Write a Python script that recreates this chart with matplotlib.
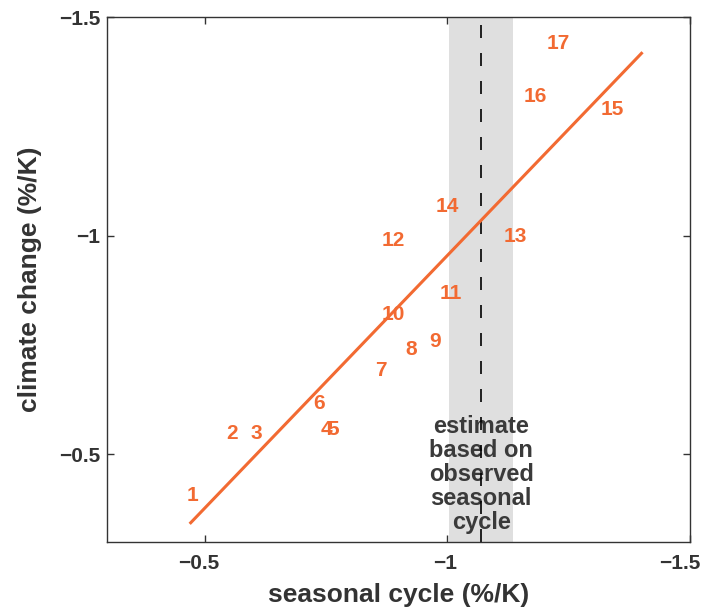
import matplotlib
matplotlib.use('Agg')
import matplotlib.pyplot as plt
import matplotlib.transforms as mtransforms
import numpy as np

# model labels and where they sit (seasonal cycle, climate change), %/K
model_ids = ['1', '2', '3', '4', '5', '6', '7', '8', '9', '10',
             '11', '12', '13', '14', '15', '16', '17']
seasonal = [-0.476, -0.556, -0.606, -0.752, -0.766, -0.736, -0.864, -0.925, -0.975, -0.889,
            -1.008, -0.889, -1.140, -1.001, -1.340, -1.181, -1.229]
climate = [-0.407, -0.548, -0.548, -0.556, -0.556, -0.617, -0.691, -0.739, -0.758, -0.819,
           -0.869, -0.990, -0.998, -1.066, -1.289, -1.318, -1.440]

# regression line end points
fit_x = [-0.4715, -1.400]
fit_y = [-0.344, -1.417]

# observed seasonal cycle estimate and its range
obs_est = -1.07
obs_lo, obs_hi = -1.004, -1.136

orange = '#f26a32'
dark = '#333333'

plt.rcParams['font.family'] = ['Liberation Sans', 'DejaVu Sans']
plt.rcParams['font.weight'] = 'bold'
plt.rcParams['axes.labelweight'] = 'bold'

fig = plt.figure(figsize=(7.07, 6.12), dpi=100)
ax = fig.add_axes([0.152, 0.1144, 0.824, 0.8578])

ax.axvspan(obs_lo, obs_hi, color='#dfdfdf', lw=0, zorder=0)
ax.text(obs_est, -0.454, 'estimate\nbased on\nobserved\nseasonal\ncycle',
        ha='center', va='center', fontsize=17, color='#3a3a3a',
        linespacing=1.05, zorder=1)
ax.axvline(obs_est, color='k', lw=1.2, dashes=(7.8, 9), zorder=2)

ax.plot(fit_x, fit_y, color=orange, lw=2.2, zorder=3)

for lab, x, y in zip(model_ids, seasonal, climate):
    ax.text(x, y, lab, ha='center', va='center', fontsize=15,
            color=orange, zorder=4)

ax.set_xlim(-0.3, -1.5)
ax.set_ylim(-0.3, -1.5)
ax.set_xticks([-0.5, -1, -1.5])
ax.set_xticklabels(['\u22120.5', '\u22121', '\u22121.5'])
ax.set_yticks([-0.5, -1, -1.5])
ax.set_yticklabels(['\u22120.5', '\u22121', '\u22121.5'])
ax.tick_params(direction='in', length=5, width=1, top=True, right=True,
               labelsize=15, colors=dark)
ax.tick_params(axis='x', pad=9)
ax.tick_params(axis='y', pad=5)
for s in ax.spines.values():
    s.set_color(dark)
    s.set_linewidth(1)

# nudge the x tick labels left a bit so the last one stays inside the figure
shifts = [-6, -2, -10]
for lbl, dx in zip(ax.get_xticklabels(), shifts):
    lbl.set_transform(lbl.get_transform() +
                      mtransforms.ScaledTranslation(dx / 100, 0, fig.dpi_scale_trans))

ax.set_xlabel('seasonal cycle (%/K)', fontsize=19, color=dark)
ax.set_ylabel('climate change (%/K)', fontsize=19, color=dark)
ax.xaxis.set_label_coords(0.5, -0.078)
ax.yaxis.set_label_coords(-0.112, 0.5)

fig.savefig('out.png', dpi=100)
